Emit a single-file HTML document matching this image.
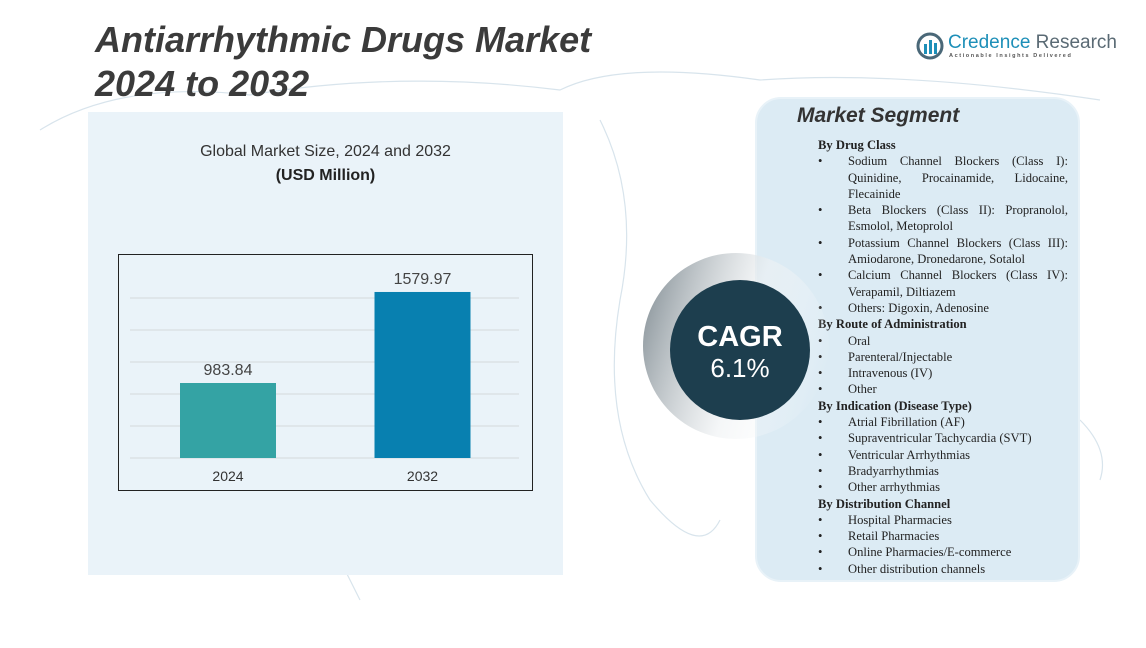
<!DOCTYPE html>
<html><head><meta charset="utf-8"><style>
body{margin:0;width:1146px;height:648px;background:#fff;position:relative;overflow:hidden;font-family:"Liberation Sans",sans-serif}
.abs{position:absolute}
#title{left:95px;top:18px;font-size:36px;font-weight:bold;font-style:italic;color:#3b3b3b;line-height:44px}
#leftpanel{left:88px;top:112px;width:475px;height:463px;background:#eaf3f9}
#seg{left:755px;top:97px;width:321px;height:481px;background:#dcebf4;border:2px solid #e8f2f8;border-radius:26px}
#seg h2{margin:0;position:absolute;left:40px;top:5px;font-size:21px;font-style:italic;font-weight:bold;color:#333}
#list{position:absolute;left:61px;top:38px;width:250px;font-family:"Liberation Serif",serif;font-size:12.6px;line-height:16.3px;color:#222;text-align:justify}
.h{font-weight:bold}
.li{padding-left:30px;position:relative}
.li:before{content:"•";position:absolute;left:0}
</style></head><body>
<svg class="abs" style="left:0;top:0" width="1146" height="648">
<g fill="none" stroke="#d8e4ec" stroke-width="1.2">
<path d="M40 130 Q120 80 250 95 Q400 70 560 90 Q620 60 760 80 Q900 70 1100 100"/>
<path d="M600 120 Q640 200 620 300 Q600 420 650 500 Q700 560 720 520"/>
<path d="M300 480 Q340 560 360 600"/>
<path d="M1080 420 Q1110 450 1100 480"/>
</g></svg>
<div id="title" class="abs">Antiarrhythmic Drugs Market<br>2024 to 2032</div>
<div class="abs" style="left:916px;top:32px">
<svg width="28" height="28" style="position:absolute;left:0;top:0"><circle cx="14" cy="14" r="12" fill="none" stroke="#4a6878" stroke-width="3"/><rect x="8" y="12" width="3" height="10" fill="#1d8fb8"/><rect x="13" y="8" width="3" height="14" fill="#1d8fb8"/><rect x="18" y="11" width="3" height="11" fill="#1d8fb8"/></svg>
<div style="position:absolute;left:32px;top:0;font-size:19px;color:#1d8fb8;white-space:nowrap">Credence <span style="color:#5a6a74">Research</span></div>
<div style="position:absolute;left:33px;top:21px;font-size:5.5px;letter-spacing:1.6px;color:#555;white-space:nowrap;font-weight:bold">Actionable Insights Delivered</div>
</div>
<div id="leftpanel" class="abs"></div>
<div class="abs" style="left:88px;top:143px;width:475px;text-align:center;font-size:16px;color:#333">Global Market Size, 2024 and 2032</div>
<div class="abs" style="left:88px;top:167px;width:475px;text-align:center;font-size:16px;font-weight:bold;color:#222">(USD Million)</div>
<svg id="chart" class="abs" style="left:0;top:0" width="600" height="600"></svg>
<div id="seg" class="abs"><h2>Market Segment</h2>
<div id="list">
<div class="h">By Drug Class</div>
<div class="li">Sodium Channel Blockers (Class I): Quinidine, Procainamide, Lidocaine, Flecainide</div>
<div class="li">Beta Blockers (Class II): Propranolol, Esmolol, Metoprolol</div>
<div class="li">Potassium Channel Blockers (Class III): Amiodarone, Dronedarone, Sotalol</div>
<div class="li">Calcium Channel Blockers (Class IV): Verapamil, Diltiazem</div>
<div class="li">Others: Digoxin, Adenosine</div>
<div class="h">By Route of Administration</div>
<div class="li">Oral</div><div class="li">Parenteral/Injectable</div><div class="li">Intravenous (IV)</div><div class="li">Other</div>
<div class="h">By Indication (Disease Type)</div>
<div class="li">Atrial Fibrillation (AF)</div><div class="li">Supraventricular Tachycardia (SVT)</div><div class="li">Ventricular Arrhythmias</div><div class="li">Bradyarrhythmias</div><div class="li">Other arrhythmias</div>
<div class="h">By Distribution Channel</div>
<div class="li">Hospital Pharmacies</div><div class="li">Retail Pharmacies</div><div class="li">Online Pharmacies/E-commerce</div><div class="li">Other distribution channels</div>
</div></div>
<svg class="abs" style="left:630px;top:240px" width="200" height="200">
<defs><linearGradient id="g" x1="0" y1="0.3" x2="1" y2="0.6"><stop offset="0" stop-color="#8f999f"/><stop offset="0.55" stop-color="#eef1f3" stop-opacity="0.6"/><stop offset="1" stop-color="#fff" stop-opacity="0"/></linearGradient></defs>
<circle cx="106" cy="106" r="93" fill="url(#g)"/>
<circle cx="110" cy="110" r="70" fill="#1d3e4e"/>
<text x="110" y="106" text-anchor="middle" font-size="29" font-weight="bold" fill="#fff" font-family="Liberation Sans">CAGR</text>
<text x="110" y="137" text-anchor="middle" font-size="26" fill="#fff" font-family="Liberation Sans">6.1%</text>
</svg>
<script>
const categories=["2024","2032"];
const values=[983.84,1579.97];
const valueLabels=["983.84","1579.97"];
const colors=["#34a3a4","#0880b0"];
const ns="http://www.w3.org/2000/svg";
const svg=document.getElementById('chart');
const base=458, yMin=492.7, k=0.1527;
function y(v){return base-(v-yMin)*k;}
function x(i){return 180+i*194.5;}
const bw=96;
function mk(t,a){const e=document.createElementNS(ns,t);for(const n in a)e.setAttribute(n,a[n]);svg.appendChild(e);return e;}
const frame=mk('rect',{x:118.5,y:254.5,width:414,height:236,fill:'none',stroke:'#222','stroke-width':1});


for(let g=0;g<6;g++){const gy=base-g*32;const l=mk('line',{x1:130,x2:519,y1:gy,y2:gy,stroke:'#d4d9dc','stroke-width':1});

}
categories.forEach((c,i)=>{
const r=mk('rect',{x:x(i),y:y(values[i]),width:bw,height:base-y(values[i]),fill:colors[i]});


const t=mk('text',{x:x(i)+bw/2,y:y(values[i])-8,'text-anchor':'middle','font-size':16,fill:'#444','font-family':'Liberation Sans'});t.textContent=valueLabels[i];


const xl=mk('text',{x:x(i)+bw/2,y:481,'text-anchor':'middle','font-size':14,fill:'#333','font-family':'Liberation Sans'});xl.textContent=c;


});
</script>
</body></html>
